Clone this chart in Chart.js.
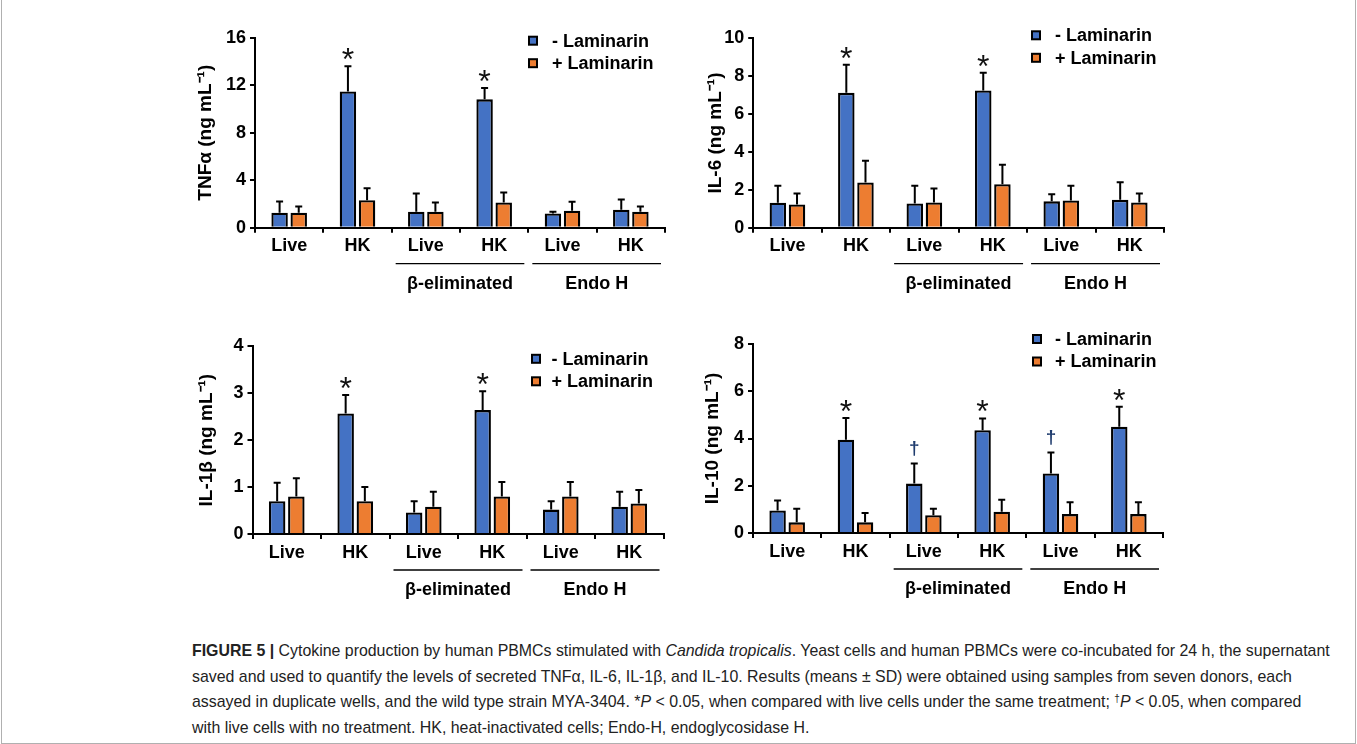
<!DOCTYPE html>
<html>
<head>
<meta charset="utf-8">
<script src="https://cdn.jsdelivr.net/npm/chart.js@4.4.0/dist/chart.umd.min.js"></script>
<style>
  body { margin: 0; background: #fff; width: 1357px; height: 744px; overflow: hidden; position: relative; }
  canvas { position: absolute; }
  #marco { position: absolute; left: 1px; top: -2px; width: 1353px; height: 744px; border: 1px solid #b0b0b0; }
  #leyenda { position: absolute; left: 192px; top: 638px; font-family: "Liberation Sans", Arial, sans-serif;
    font-size: 15.9px; line-height: 25.5px; color: #222; white-space: nowrap; }
  #leyenda b { font-weight: bold; }
  #leyenda sup { font-size: 10px; line-height: 0; vertical-align: 5px; }
</style>
</head>
<body>
<div id="marco"></div>
<canvas id="tnf" width="530" height="310" style="left:150px;top:0px"></canvas>
<canvas id="il6" width="530" height="310" style="left:660px;top:0px"></canvas>
<canvas id="il1b" width="530" height="310" style="left:150px;top:310px"></canvas>
<canvas id="il10" width="530" height="310" style="left:660px;top:310px"></canvas>
<div id="leyenda">
<b>FIGURE 5 |</b> Cytokine production by human PBMCs stimulated with <i>Candida tropicalis</i>. Yeast cells and human PBMCs were co-incubated for 24 h, the supernatant<br>
saved and used to quantify the levels of secreted TNFα, IL-6, IL-1β, and IL-10. Results (means ± SD) were obtained using samples from seven donors, each<br>
assayed in duplicate wells, and the wild type strain MYA-3404. *<i>P</i> &lt; 0.05, when compared with live cells under the same treatment; <sup>†</sup><i>P</i> &lt; 0.05, when compared<br>
with live cells with no treatment. HK, heat-inactivated cells; Endo-H, endoglycosidase H.
</div>
<script>
// categorias del eje x y grupos de abajo
const categorias = ["Live", "HK", "Live", "HK", "Live", "HK"];
const grupos = ["β-eliminated", "Endo H"];
const grupoDesde = [2, 4];
const grupoHasta = [3, 5];
const series = ["- Laminarin", "+ Laminarin"];

// TNFa
const tnfSin = [1.26, 11.48, 1.34, 10.81, 1.2, 1.51];
const tnfSinSd = [0.95, 2.12, 1.55, 0.95, 0.14, 0.87];
const tnfCon = [1.26, 2.32, 1.34, 2.13, 1.43, 1.34];
const tnfConSd = [0.53, 1.01, 0.79, 0.84, 0.75, 0.45];
const tnfMarcas = ["", "*", "", "*", "", ""];

// IL-6
const il6Sin = [1.32, 7.12, 1.28, 7.25, 1.39, 1.47];
const il6SinSd = [0.89, 1.49, 0.93, 0.93, 0.38, 0.93];
const il6Con = [1.23, 2.39, 1.33, 2.3, 1.44, 1.33];
const il6ConSd = [0.58, 1.15, 0.74, 1.02, 0.77, 0.48];
const il6Marcas = ["", "*", "", "*", "", ""];

// IL-1b
const il1bSin = [0.7, 2.57, 0.46, 2.64, 0.52, 0.58];
const il1bSinSd = [0.39, 0.39, 0.24, 0.4, 0.18, 0.32];
const il1bCon = [0.8, 0.7, 0.58, 0.8, 0.8, 0.65];
const il1bConSd = [0.39, 0.3, 0.32, 0.31, 0.31, 0.29];
const il1bMarcas = ["", "*", "", "*", "", ""];

// IL-10
const il10Sin = [0.95, 3.95, 2.09, 4.35, 2.52, 4.5];
const il10SinSd = [0.43, 0.92, 0.85, 0.5, 0.89, 0.84];
const il10Con = [0.45, 0.45, 0.75, 0.9, 0.8, 0.8];
const il10ConSd = [0.58, 0.4, 0.28, 0.51, 0.5, 0.5];
const il10Marcas = ["", "*", "†", "*", "†", "*"];

const fuente = "Liberation Sans";
const azul = "#4472C4";
const naranja = "#ED7D31";

function dibujarMarca(ctx, marca, x, yTope) {
  if (marca === "*") {
    ctx.font = "32px " + fuente;
    ctx.fillStyle = "#111";
  } else {
    ctx.font = "bold 19px " + fuente;
    ctx.fillStyle = "#1f3c6e";
  }
  const m = ctx.measureText(marca);
  const cy = yTope - (marca === "*" ? 12 : 15);
  ctx.textAlign = "center";
  ctx.textBaseline = "alphabetic";
  ctx.fillText(marca, x, cy + (m.actualBoundingBoxAscent - m.actualBoundingBoxDescent) / 2);
}

const extras = {
  id: "extras",
  afterDatasetsDraw(chart, args, opts) {
    const ctx = chart.ctx;
    const ys = chart.scales.y;
    const xs = chart.scales.x;
    const area = chart.chartArea;
    ctx.save();

    // barras de error (solo hacia arriba) y asteriscos
    chart.data.datasets.forEach((ds, d) => {
      const meta = chart.getDatasetMeta(d);
      meta.data.forEach((bar, i) => {
        const tope = ys.getPixelForValue(ds.data[i] + ds.sd[i]);
        ctx.strokeStyle = "#000";
        ctx.lineWidth = 2;
        ctx.beginPath();
        ctx.moveTo(bar.x, bar.y);
        ctx.lineTo(bar.x, tope);
        ctx.moveTo(bar.x - 3.5, tope);
        ctx.lineTo(bar.x + 3.5, tope);
        ctx.stroke();
        if (ds.marcas && ds.marcas[i]) {
          dibujarMarca(ctx, ds.marcas[i], bar.x, tope);
        }
      });
    });

    // leyenda a mano
    ctx.font = "bold 18px " + fuente;
    ctx.textAlign = "left";
    ctx.textBaseline = "middle";
    chart.data.datasets.forEach((ds, d) => {
      const y = area.top + opts.leyY + d * 22.5;
      const cx = area.right - opts.leyCaja;
      ctx.fillStyle = ds.backgroundColor;
      ctx.fillRect(cx - 4, y - 4, 8, 8);
      ctx.lineWidth = 2;
      ctx.strokeStyle = "#000";
      ctx.strokeRect(cx - 4, y - 4, 8, 8);
      ctx.fillStyle = "#000";
      ctx.fillText(ds.label, area.right - opts.leyTexto, y + 1);
    });

    // grupos debajo del eje
    const ancho = xs.width / categorias.length;
    ctx.textAlign = "center";
    grupos.forEach((g, k) => {
      const x1 = xs.getPixelForValue(grupoDesde[k]) - ancho / 2 + 4;
      const x2 = xs.getPixelForValue(grupoHasta[k]) + ancho / 2 - 4;
      const yl = area.bottom + opts.lineaY;
      ctx.lineWidth = 1.3;
      ctx.beginPath();
      ctx.moveTo(x1, yl);
      ctx.lineTo(x2, yl);
      ctx.stroke();
      ctx.fillText(g, (x1 + x2) / 2, area.bottom + opts.textoY);
    });
    ctx.restore();
  },
};

function panel(id, titulo, maxY, paso, sin, sinSd, con, conSd, marcas, lay) {
  const canvas = document.getElementById(id);
  const config = {
    type: "bar",
    data: {
      labels: categorias,
      datasets: [
        {
          label: series[0],
          data: sin,
          sd: sinSd,
          marcas: marcas,
          backgroundColor: azul,
          borderColor: "#000",
          borderWidth: 2.3,
          categoryPercentage: 0.56,
          barPercentage: 0.86,
        },
        {
          label: series[1],
          data: con,
          sd: conSd,
          backgroundColor: naranja,
          borderColor: "#000",
          borderWidth: 2.3,
          categoryPercentage: 0.56,
          barPercentage: 0.86,
        },
      ],
    },
    options: {
      responsive: false,
      animation: false,
      layout: { padding: { top: lay.arriba, right: lay.derecha, left: 0, bottom: 0 } },
      plugins: {
        legend: { display: false },
        tooltip: { enabled: false },
        extras: { leyY: lay.leyY, leyCaja: lay.leyCaja, leyTexto: lay.leyTexto, lineaY: 36, textoY: 56 },
      },
      scales: {
        x: {
          grid: { drawOnChartArea: false, color: "#000", lineWidth: 2, tickLength: 5, offset: true },
          border: { color: "#000", width: 2 },
          ticks: { color: "#000", padding: 3, font: { family: fuente, size: 18, weight: "bold" } },
          afterFit: (s) => { s.height = lay.alto; },
        },
        y: {
          min: 0,
          max: maxY,
          grid: { drawOnChartArea: false, color: "#000", lineWidth: 2, tickLength: 5 },
          border: { color: "#000", width: 2 },
          ticks: { stepSize: paso, color: "#000", padding: 4, font: { family: fuente, size: 18, weight: "bold" } },
          title: {
            display: true,
            text: titulo,
            color: "#000",
            font: { family: fuente, size: 19, weight: "bold", lineHeight: 1.2 },
            padding: { top: lay.tituloX - 11.4, bottom: 0 },
          },
          afterFit: (s) => { s.width = lay.ancho; },
        },
      },
    },
    plugins: [extras],
  };
  return new Chart(canvas, config);
}

panel("tnf", "TNFα (ng mL⁻¹)", 16, 4, tnfSin, tnfSinSd, tnfCon, tnfConSd, tnfMarcas,
  { arriba: 37.7, derecha: 15, alto: 82.3, ancho: 105, tituloX: 56, leyY: 3, leyCaja: 132, leyTexto: 113 });
panel("il6", "IL-6 (ng mL⁻¹)", 10, 2, il6Sin, il6SinSd, il6Con, il6ConSd, il6Marcas,
  { arriba: 38.3, derecha: 26, alto: 82.3, ancho: 93.2, tituloX: 56, leyY: -3, leyCaja: 128, leyTexto: 109 });
panel("il1b", "IL-1β (ng mL⁻¹)", 4, 1, il1bSin, il1bSinSd, il1bCon, il1bConSd, il1bMarcas,
  { arriba: 36.3, derecha: 16.5, alto: 86, ancho: 102.5, tituloX: 57, leyY: 12.5, leyCaja: 127.5, leyTexto: 112 });
panel("il10", "IL-10 (ng mL⁻¹)", 8, 2, il10Sin, il10SinSd, il10Con, il10ConSd, il10Marcas,
  { arriba: 34, derecha: 27, alto: 87, ancho: 93, tituloX: 52.5, leyY: -5, leyCaja: 126, leyTexto: 108 });
</script>
</body>
</html>
